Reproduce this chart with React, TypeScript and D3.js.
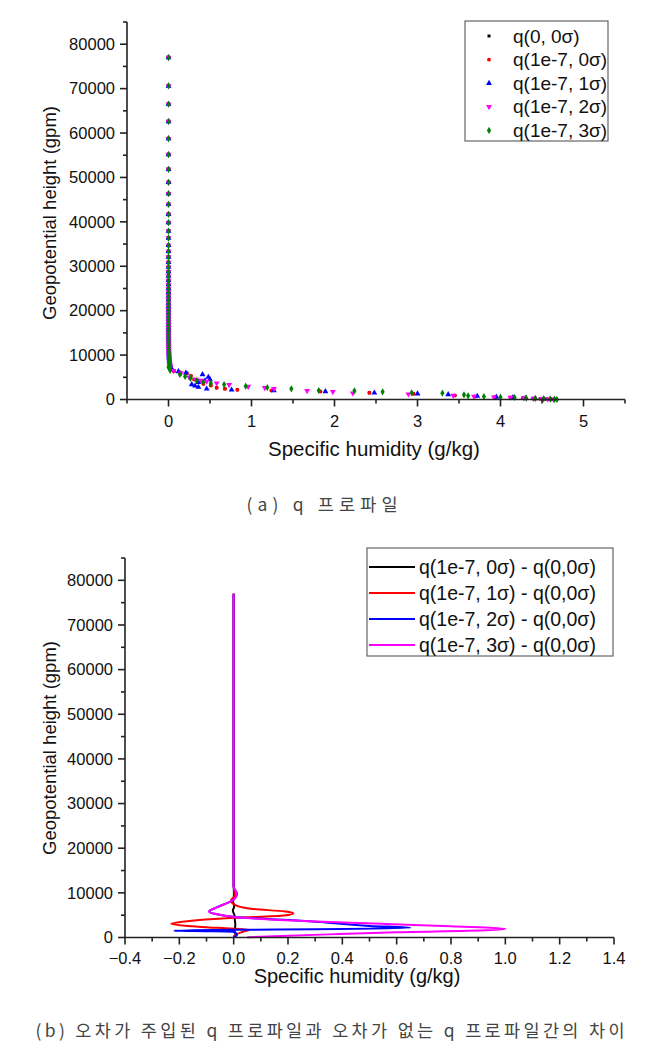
import React from 'react';
import * as d3 from 'd3';

// ---------- Chart (a): q profiles (scatter) ----------
const upperHeights = [77000, 70600, 66500, 62600, 58750, 55150, 51830, 48900, 46350, 43940,
  41700, 39820, 37930, 36350, 34700, 33350, 32070, 30870, 29810, 28780,
  27790, 26820, 25900, 25000, 24150, 23300, 22500, 21700, 20950, 20200,
  19500, 18800, 18100, 17450, 16800, 16150, 15550, 14950, 14350, 13800,
  13250, 12700, 12200, 11700, 11200, 10700, 10250, 9800, 9350, 8900,
  8450, 8000, 7600];
const upperQ = [0, 0, 0, 0, 0, 0, 0, 0, 0, 0,
  0, 0, 0, 0, 0, 0, 0, 0, 0, 0,
  0, 0, 0, 0, 0, 0, 0, 0, 0, 0,
  0, 0, 0, 0, 0, 0, 0, 0, 0, 0,
  0.001, 0.001, 0.002, 0.002, 0.003, 0.004, 0.005, 0.006, 0.008, 0.01,
  0.012, 0.015, 0.02];

const q00H = [7200, 6380, 6100, 5930, 5300, 4500, 4130, 3540, 3150, 2640, 2410, 2190, 2030, 1800, 1510, 1300, 900, 680, 520, 450, 300, 225, 160, 90, 30];
const q00Q = [0.03, 0.065, 0.14, 0.22, 0.27, 0.31, 0.35, 0.42, 0.51, 0.58, 0.68, 0.83, 1.24, 1.83, 2.42, 2.95, 3.45, 3.69, 3.93, 4.12, 4.27, 4.39, 4.48, 4.56, 4.62];
const q70H = [7200, 6380, 6100, 5930, 5300, 4500, 4130, 3540, 3150, 2640, 2410, 2190, 2030, 1800, 1510, 1300, 900, 680, 520, 450, 300, 225, 160, 90, 30];
const q70Q = [0.03, 0.065, 0.14, 0.22, 0.27, 0.31, 0.35, 0.42, 0.51, 0.58, 0.68, 0.83, 1.24, 1.83, 2.42, 2.95, 3.45, 3.69, 3.93, 4.12, 4.27, 4.39, 4.48, 4.56, 4.62];
const q71H = [7300, 6900, 6300, 6000, 5630, 5030, 4500, 4250, 3900, 3380, 3080, 2780, 2410, 2190, 2030, 1800, 1510, 1300, 1130, 750, 560, 450, 310, 230, 150, 80, 25];
const q71Q = [0.02, 0.04, 0.12, 0.21, 0.41, 0.48, 0.50, 0.44, 0.36, 0.28, 0.32, 0.36, 0.46, 0.76, 1.27, 1.89, 2.48, 3.0, 3.37, 3.72, 3.95, 4.15, 4.3, 4.42, 4.52, 4.6, 4.65];
const q72H = [7200, 6500, 5900, 5000, 4500, 4280, 4060, 3670, 3310, 2930, 2640, 2410, 1960, 1730, 1420, 1200, 900, 700, 540, 460, 310, 230, 160, 90, 30];
const q72Q = [0.02, 0.06, 0.15, 0.25, 0.33, 0.39, 0.46, 0.58, 0.73, 0.96, 1.16, 1.27, 1.67, 1.98, 2.22, 2.89, 3.43, 3.68, 3.92, 4.12, 4.28, 4.4, 4.5, 4.57, 4.64];
const q73H = [7280, 6535, 5630, 5180, 4800, 4280, 3900, 3670, 3380, 3000, 2700, 2400, 2030, 1960, 1730, 1510, 1420, 1060, 830, 680, 520, 450, 300, 225, 150, 70, 25, 5];
const q73Q = [0.0, 0.02, 0.137, 0.2, 0.265, 0.34, 0.42, 0.51, 0.67, 0.93, 1.19, 1.48, 1.81, 2.24, 2.58, 2.93, 3.30, 3.56, 3.61, 3.80, 4.00, 4.17, 4.31, 4.42, 4.52, 4.6, 4.65, 4.68];

const legendA = ['q(0, 0σ)', 'q(1e-7, 0σ)', 'q(1e-7, 1σ)', 'q(1e-7, 2σ)', 'q(1e-7, 3σ)'];
const colorsA = ['#000000', '#ff0000', '#0000ff', '#ff00ff', '#008000'];
const xTicksA = [0, 1, 2, 3, 4, 5];
const yTicks = [0, 10000, 20000, 30000, 40000, 50000, 60000, 70000, 80000];

// ---------- Chart (b): differences (lines) ----------
const d0H = [77000, 12000, 9500, 8000, 7000, 6000, 5000, 4000, 3000, 2000, 1200, 700, 300, 0];
const d0Q = [0, 0, 0.001, -0.002, 0.002, -0.003, 0.003, 0.004, 0.006, 0.005, 0.003, 0.008, 0.002, 0];
const d1H = [77000, 12000, 10500, 9400, 8300, 7300, 6430, 5830, 5450, 4930, 4410, 3590, 3070, 2620, 2170, 1730, 1300, 830, 400, 70];
const d1Q = [0, 0, 0.002, 0.004, -0.01, 0.005, 0.063, 0.19, 0.22, 0.185, 0.0, -0.18, -0.23, -0.18, -0.06, 0.056, 0.035, 0.013, 0.004, 0];
const d2H = [77000, 12000, 11300, 9800, 8300, 6800, 5830, 5300, 4550, 3650, 2600, 2170, 1850, 1720, 1600, 1500, 1410, 1300, 900, 500, 200, 0];
const d2Q = [0, 0, 0, 0.012, -0.005, -0.06, -0.09, -0.07, 0.013, 0.28, 0.5, 0.65, 0.3, 0.0, -0.15, -0.22, -0.1, 0.0, 0.01, 0.012, 0.004, 0];
const d3H = [77000, 12000, 11300, 9800, 8300, 6800, 5830, 5300, 4550, 3650, 3070, 2500, 1950, 1600, 1150, 700, 300, 60];
const d3Q = [0, 0, 0, 0.012, -0.005, -0.06, -0.09, -0.07, 0.013, 0.28, 0.54, 0.8, 1.0, 0.93, 0.6, 0.35, 0.15, 0.05];

const legendB = ['q(1e-7, 0σ) - q(0,0σ)', 'q(1e-7, 1σ) - q(0,0σ)', 'q(1e-7, 2σ) - q(0,0σ)', 'q(1e-7, 3σ) - q(0,0σ)'];
const colorsB = ['#000000', '#ff0000', '#0000ff', '#ff00ff'];
const xTicksB = [-0.4, -0.2, 0.0, 0.2, 0.4, 0.6, 0.8, 1.0, 1.2, 1.4];

const captionA = '(a) q 프로파일';
const captionB = '(b) 오차가 주입된 q 프로파일과 오차가 없는 q 프로파일간의 차이';

const FONT = '"Liberation Sans", Arial, sans-serif';
const KFONT = '"Noto Sans CJK KR", sans-serif';
const AX = '#222';

export default function App() {
  const xA = d3.scaleLinear().domain([-0.5, 5.5]).range([127, 625]);
  const yA = d3.scaleLinear().domain([0, 85000]).range([399.5, 22]);
  const xB = d3.scaleLinear().domain([-0.4, 1.4]).range([125, 614]);
  const yB = d3.scaleLinear().domain([0, 85000]).range([937.5, 558]);

  const symbols = [d3.symbolSquare, d3.symbolCircle, d3.symbolTriangle, d3.symbolTriangle, d3.symbolDiamond];
  const sizes = [9, 12, 15, 15, 15];
  const rotations = [0, 0, 0, 180, 0];
  const seriesA = [
    { h: upperHeights.concat(q00H), q: upperQ.concat(q00Q) },
    { h: upperHeights.concat(q70H), q: upperQ.concat(q70Q) },
    { h: upperHeights.concat(q71H), q: upperQ.concat(q71Q) },
    { h: upperHeights.concat(q72H), q: upperQ.concat(q72Q) },
    { h: upperHeights.concat(q73H), q: upperQ.concat(q73Q) },
  ];
  const seriesB = [
    { h: d0H, q: d0Q },
    { h: d1H, q: d1Q },
    { h: d2H, q: d2Q },
    { h: d3H, q: d3Q },
  ];

  const line = d3.line<[number, number]>()
    .x(d => xB(d[0]))
    .y(d => yB(d[1]))
    .curve(d3.curveMonotoneY);

  const minorYA = d3.range(5000, 85001, 10000);
  const minorXA = d3.range(-0.5, 5.51, 1);
  const minorXB = d3.range(-0.3, 1.31, 0.2);

  const axisA = (
    <g stroke={AX} strokeWidth={1.6} fill="none">
      <line x1={xA(-0.5)} x2={xA(-0.5)} y1={yA(85000)} y2={yA(0)} />
      <line x1={xA(-0.5)} x2={xA(5.5)} y1={yA(0)} y2={yA(0)} />
      {yTicks.map(t => <line key={'ya' + t} x1={xA(-0.5) - 7} x2={xA(-0.5)} y1={yA(t)} y2={yA(t)} />)}
      {minorYA.map(t => <line key={'yam' + t} x1={xA(-0.5) - 4} x2={xA(-0.5)} y1={yA(t)} y2={yA(t)} />)}
      {xTicksA.map(t => <line key={'xa' + t} x1={xA(t)} x2={xA(t)} y1={yA(0)} y2={yA(0) + 7} />)}
      {minorXA.map(t => <line key={'xam' + t} x1={xA(t)} x2={xA(t)} y1={yA(0)} y2={yA(0) + 4} />)}
    </g>
  );

  const axisB = (
    <g stroke={AX} strokeWidth={1.6} fill="none">
      <line x1={xB(-0.4)} x2={xB(-0.4)} y1={yB(85000)} y2={yB(0)} />
      <line x1={xB(-0.4)} x2={xB(1.4)} y1={yB(0)} y2={yB(0)} />
      {yTicks.map(t => <line key={'yb' + t} x1={xB(-0.4) - 7} x2={xB(-0.4)} y1={yB(t)} y2={yB(t)} />)}
      {minorYA.map(t => <line key={'ybm' + t} x1={xB(-0.4) - 4} x2={xB(-0.4)} y1={yB(t)} y2={yB(t)} />)}
      {xTicksB.map(t => <line key={'xb' + t} x1={xB(t)} x2={xB(t)} y1={yB(0)} y2={yB(0) + 7} />)}
      {minorXB.map(t => <line key={'xbm' + t} x1={xB(t)} x2={xB(t)} y1={yB(0)} y2={yB(0) + 4} />)}
    </g>
  );

  return (
    <svg width={660} height={1059} style={{ position: 'absolute', left: 0, top: 0, background: '#fff' }}
      fontFamily={FONT}>
      <rect x={0} y={0} width={660} height={1059} fill="#fff" />
      {/* ---- Chart A ---- */}
      {seriesA.map((s, i) => (
        <g key={'sa' + i} fill={colorsA[i]}>
          {s.h.map((h, j) => (
            <path key={j}
              d={d3.symbol().type(symbols[i]).size(sizes[i])() || ''}
              transform={`translate(${xA(s.q[j])},${yA(h)}) rotate(${rotations[i]})`} />
          ))}
        </g>
      ))}
      {axisA}
      <g fontSize={16.5} fill="#111">
        {yTicks.map(t => (
          <text key={'yla' + t} x={xA(-0.5) - 12} y={yA(t)} dy="0.35em" textAnchor="end">{t}</text>
        ))}
        {xTicksA.map(t => (
          <text key={'xla' + t} x={xA(t)} y={yA(0) + 27.5} textAnchor="middle">{t}</text>
        ))}
      </g>
      <text x={374} y={456} fontSize={20.5} textAnchor="middle" fill="#111">Specific humidity (g/kg)</text>
      <text transform="translate(56,213) rotate(-90)" fontSize={18.5} textAnchor="middle" fill="#111">Geopotential height (gpm)</text>
      <rect x={465} y={21} width={143} height={120} fill="#fff" stroke="#666" strokeWidth={1.2} />
      {legendA.map((l, i) => (
        <g key={'la' + i}>
          <path d={d3.symbol().type(symbols[i]).size(sizes[i])() || ''}
            fill={colorsA[i]} transform={`translate(489,${36 + i * 23.6}) rotate(${rotations[i]})`} />
          <text x={513} y={36 + i * 23.6} dy="0.35em" fontSize={19} fill="#111">{l}</text>
        </g>
      ))}
      <text x={322} y={511} fontSize={17.5} fill="#444" textAnchor="middle"
        fontFamily={KFONT} textLength={151} lengthAdjust="spacing">{captionA}</text>

      {/* ---- Chart B ---- */}
      {seriesB.map((s, i) => (
        <path key={'lb' + i}
          d={line(s.h.map((h, j) => [s.q[j], h] as [number, number])) || ''}
          fill="none" stroke={colorsB[i]} strokeWidth={2} strokeLinejoin="round" />
      ))}
      {axisB}
      <g fontSize={16.5} fill="#111">
        {yTicks.map(t => (
          <text key={'ylb' + t} x={xB(-0.4) - 12} y={yB(t)} dy="0.35em" textAnchor="end">{t}</text>
        ))}
        {xTicksB.map(t => (
          <text key={'xlb' + t} x={xB(t)} y={yB(0) + 26.5} textAnchor="middle">{d3.format('.1f')(t)}</text>
        ))}
      </g>
      <text x={357} y={983} fontSize={20} textAnchor="middle" fill="#111">Specific humidity (g/kg)</text>
      <text transform="translate(56,748) rotate(-90)" fontSize={18.5} textAnchor="middle" fill="#111">Geopotential height (gpm)</text>
      <rect x={367} y={548} width={246} height={108} fill="#fff" stroke="#666" strokeWidth={1.2} />
      {legendB.map((l, i) => (
        <g key={'lgb' + i}>
          <line x1={369} x2={415} y1={567 + i * 26} y2={567 + i * 26} stroke={colorsB[i]} strokeWidth={2} />
          <text x={419} y={567 + i * 26} dy="0.35em" fontSize={19.5} fill="#111">{l}</text>
        </g>
      ))}
      <text x={330} y={1037} fontSize={17.5} fill="#444" textAnchor="middle"
        fontFamily={KFONT} textLength={589} lengthAdjust="spacing">{captionB}</text>
    </svg>
  );
}
